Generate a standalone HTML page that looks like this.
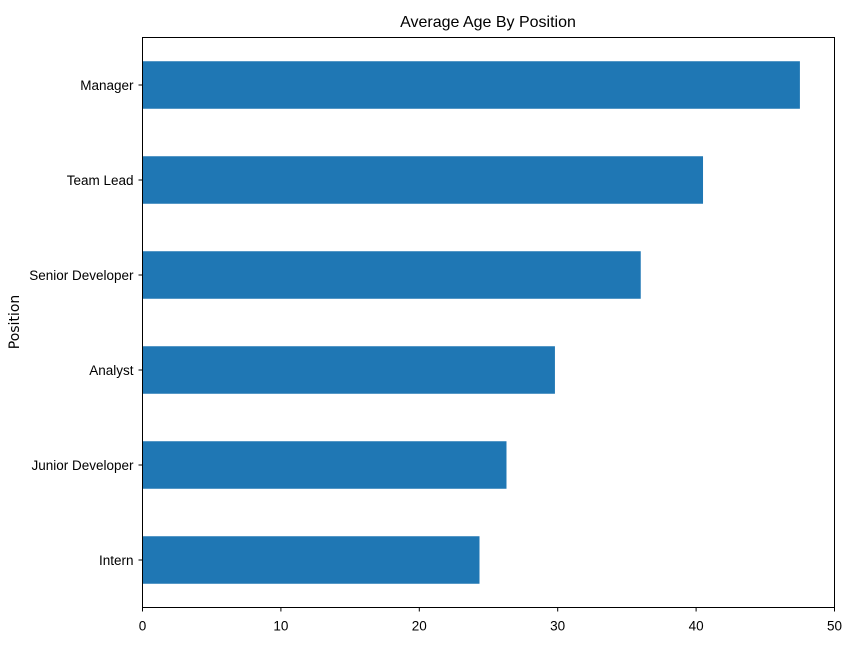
<!DOCTYPE html>
<html><head><meta charset="utf-8"><style>
html,body{margin:0;padding:0;background:#fff;}
svg text{font-family:"Liberation Sans",sans-serif;fill:#000;}
</style></head><body>
<svg id="chart" width="850" height="650" xmlns="http://www.w3.org/2000/svg">
<text x="488" y="27" font-size="16" text-anchor="middle">Average Age By Position</text>
<text transform="translate(19,322) rotate(-90)" font-size="14" text-anchor="middle" style="font-family:'DejaVu Sans',sans-serif">Position</text>
<g id="bars"></g>
<g id="yticks"></g>
<g id="xticks"></g>
<rect x="142.5" y="37.5" width="692" height="570" fill="none" stroke="#000" stroke-width="1"/>
</svg>
<script>
const categories = ["Manager","Team Lead","Senior Developer","Analyst","Junior Developer","Intern"];
const ages = [47.5, 40.5, 36.0, 29.8, 26.3, 24.35];
const xTicks = [0,10,20,30,40,50];
const L=142.5,R=834.5,T=37.5,B=607.5,XMAX=50;
const ns="http://www.w3.org/2000/svg";
function x(v){return L+(R-L)*v/XMAX;}
function yc(i){const band=(B-T)/categories.length;return T+band*(i+0.5);}
const band=(B-T)/categories.length;
const bars=document.getElementById('bars'),yt=document.getElementById('yticks'),xt=document.getElementById('xticks');
categories.forEach((c,i)=>{
  const r=document.createElementNS(ns,'rect');
  
  
  r.setAttribute('x',x(0));r.setAttribute('y',yc(i)-band*0.25);
  r.setAttribute('width',x(ages[i])-x(0));r.setAttribute('height',band*0.5);
  r.setAttribute('fill','#1f77b4');
  bars.appendChild(r);
  const l=document.createElementNS(ns,'line');
  
  
  l.setAttribute('x1',L-4);l.setAttribute('x2',L);l.setAttribute('y1',yc(i));l.setAttribute('y2',yc(i));l.setAttribute('stroke','#000');
  yt.appendChild(l);
  const t=document.createElementNS(ns,'text');
  
  
  t.setAttribute('x',L-9);t.setAttribute('y',yc(i)+5);t.setAttribute('text-anchor','end');t.setAttribute('font-size','13.5');
  t.textContent=c;yt.appendChild(t);
});
xTicks.forEach(v=>{
  const l=document.createElementNS(ns,'line');
  
  
  l.setAttribute('x1',x(v));l.setAttribute('x2',x(v));l.setAttribute('y1',B);l.setAttribute('y2',B+4);l.setAttribute('stroke','#000');
  xt.appendChild(l);
  const t=document.createElementNS(ns,'text');
  
  
  t.setAttribute('x',x(v));t.setAttribute('y',B+23);t.setAttribute('text-anchor','middle');t.setAttribute('font-size','13.5');
  t.textContent=v;xt.appendChild(t);
});
</script>
</body></html>
